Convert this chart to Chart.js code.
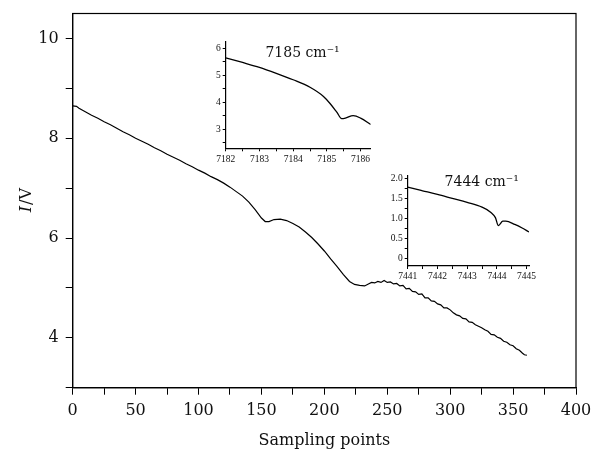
<!DOCTYPE html>
<html>
<head>
<meta charset="utf-8">
<script src="https://cdn.jsdelivr.net/npm/chart.js@4.4.0/dist/chart.umd.min.js"></script>
<style>
  body { margin: 0; background: #fff; }
  #wrap { position: relative; width: 592px; height: 450px; }
  canvas { position: absolute; }
</style>
</head>
<body>
<div id="wrap">
  <canvas id="mainChart" width="592" height="450" style="left:0;top:0"></canvas>
  <canvas id="inset7185" width="180" height="135" style="left:195px;top:30px"></canvas>
  <canvas id="inset7444" width="175" height="120" style="left:375px;top:165px"></canvas>
</div>
<script>
// main trace: voltage vs sampling point
var samplePoints = [0, 3, 5, 10, 15, 20, 25, 30, 35, 40, 45, 50, 55, 60, 65, 70, 75, 80, 85, 90, 95,
  100, 105, 110, 115, 120, 125, 130, 135, 140, 145, 150, 153, 156, 160, 165, 170, 175, 180, 185, 190,
  195, 200, 205, 210, 215, 220, 224, 228, 232,
  235, 237.5, 240, 242.5, 245, 247.5, 250, 252.5, 255, 257.5, 260, 262.5, 265, 267.5, 270, 272.5,
  275, 277.5, 280, 282.5, 285, 287.5, 290, 292.5, 295, 297.5, 300, 302.5, 305, 307.5, 310, 312.5,
  315, 317.5, 320, 322.5, 325, 327.5, 330, 332.5, 335, 337.5, 340, 342.5, 345, 347.5, 350, 352.5,
  355, 357.5, 359, 361];
var voltage = [8.65, 8.64, 8.60, 8.53, 8.46, 8.40, 8.33, 8.27, 8.20, 8.13, 8.07, 8.00, 7.94, 7.88, 7.81, 7.75, 7.68, 7.62, 7.56, 7.49, 7.43,
  7.36, 7.30, 7.23, 7.17, 7.10, 7.02, 6.93, 6.84, 6.72, 6.57, 6.40, 6.33, 6.33, 6.37, 6.38, 6.35, 6.29, 6.22, 6.12, 6.01,
  5.88, 5.74, 5.58, 5.43, 5.27, 5.13, 5.07, 5.05, 5.04,
  5.08, 5.11, 5.10, 5.13, 5.11, 5.15, 5.11, 5.12, 5.08, 5.09, 5.04, 5.05, 4.98, 4.99, 4.93, 4.92,
  4.87, 4.88, 4.80, 4.80, 4.74, 4.73, 4.68, 4.66, 4.60, 4.60, 4.56, 4.50, 4.46, 4.44, 4.39, 4.38,
  4.32, 4.31, 4.26, 4.23, 4.20, 4.16, 4.13, 4.07, 4.06, 4.01, 3.99, 3.93, 3.91, 3.86, 3.84, 3.78,
  3.75, 3.69, 3.66, 3.65];
var mainXTicks = [0, 25, 50, 75, 100, 125, 150, 175, 200, 225, 250, 275, 300, 325, 350, 375, 400];
var mainXLabels = [0, 50, 100, 150, 200, 250, 300, 350, 400];
var mainYTicks = [3, 4, 5, 6, 7, 8, 9, 10];
var mainYLabels = [4, 6, 8, 10];

// inset 7185 cm-1
var wn7185 = [7182, 7182.5, 7183, 7183.5, 7184, 7184.5, 7184.9, 7185.1, 7185.3, 7185.44, 7185.55, 7185.78, 7186, 7186.3];
var sig7185 = [5.65, 5.48, 5.30, 5.08, 4.84, 4.56, 4.22, 3.95, 3.63, 3.40, 3.42, 3.51, 3.42, 3.18];
var ins1XTicks = [7182, 7182.5, 7183, 7183.5, 7184, 7184.5, 7185, 7185.5, 7186];
var ins1XLabels = [7182, 7183, 7184, 7185, 7186];
var ins1YTicks = [2.5, 3, 3.5, 4, 4.5, 5, 5.5, 6];
var ins1YLabels = [3, 4, 5, 6];

// inset 7444 cm-1
var wn7444 = [7441, 7441.5, 7442, 7442.5, 7443, 7443.5, 7443.8, 7443.95, 7444.05, 7444.2, 7444.3, 7444.6, 7444.85, 7445.08];
var sig7444 = [1.78, 1.69, 1.60, 1.50, 1.40, 1.28, 1.15, 1.02, 0.82, 0.93, 0.93, 0.85, 0.76, 0.66];
var ins2XTicks = [7441, 7441.5, 7442, 7442.5, 7443, 7443.5, 7444, 7444.5, 7445];
var ins2XLabels = [7441, 7442, 7443, 7444, 7445];
var ins2YTicks = [0, 0.25, 0.5, 0.75, 1, 1.25, 1.5, 1.75, 2];
var ins2YLabels = [0, 0.5, 1, 1.5, 2];

var serif = "'DejaVu Serif', 'Liberation Serif', serif";
var smallSerif = "'Liberation Serif', 'DejaVu Serif', serif";
Chart.defaults.font.family = serif;
Chart.defaults.color = '#111';

function toPoints(xs, ys) {
  return xs.map(function (x, i) { return { x: x, y: ys[i] }; });
}

function axis(cfg) {
  return {
    type: 'linear',
    min: cfg.min,
    max: cfg.max,
    grid: { drawOnChartArea: false, drawTicks: true, tickLength: cfg.tick, tickColor: '#000', tickWidth: 1 },
    border: { display: true, color: '#000', width: cfg.bw },
    ticks: {
      autoSkip: false, maxRotation: 0, padding: cfg.pad,
      font: { size: cfg.fs, family: cfg.family || serif },
      callback: function (v) {
        if (cfg.labels.indexOf(v) < 0) return '';
        return cfg.fmt ? cfg.fmt(v) : String(v);
      }
    },
    afterBuildTicks: function (s) { s.ticks = cfg.ticks.map(function (v) { return { value: v }; }); },
    afterFit: function (s) {
      if (cfg.width) s.width = cfg.width;
      if (cfg.height) s.height = cfg.height;
      // keep label overhang from shrinking the plot area
      s.paddingLeft = 0; s.paddingRight = 0; s.paddingTop = 0; s.paddingBottom = 0;
    }
  };
}

// box round the main plot, and the axis titles
var mainDeco = {
  id: 'mainDeco',
  afterDraw: function (chart) {
    var c = chart.ctx, a = chart.chartArea;
    c.save();
    c.strokeStyle = '#000';
    c.lineWidth = 1.2;
    c.strokeRect(a.left, a.top, a.right - a.left, a.bottom - a.top);
    c.fillStyle = '#111';
    c.font = "16px " + serif;
    c.textAlign = 'center';
    c.textBaseline = 'alphabetic';
    c.fillText('Sampling points', (a.left + a.right) / 2, 445);
    c.translate(31, (a.top + a.bottom) / 2);
    c.rotate(-Math.PI / 2);
    c.textAlign = 'left';
    c.font = "italic 16px " + serif;
    var w1 = c.measureText('I').width;
    c.font = "16px " + serif;
    var w2 = c.measureText('/V').width;
    c.font = "italic 16px " + serif;
    c.fillText('I', -(w1 + w2) / 2, 0);
    c.font = "16px " + serif;
    c.fillText('/V', -(w1 + w2) / 2 + w1 + 1, 0);
    c.restore();
  }
};

new Chart(document.getElementById('mainChart'), {
  type: 'line',
  data: {
    datasets: [{
      data: toPoints(samplePoints, voltage),
      borderColor: '#000', borderWidth: 1.2, pointRadius: 0, tension: 0
    }]
  },
  options: {
    responsive: false, animation: false,
    layout: { padding: { top: 13.5, right: 16, left: 0, bottom: 0 } },
    plugins: { legend: { display: false }, tooltip: { enabled: false } },
    scales: {
      x: axis({ min: 0, max: 400, ticks: mainXTicks, labels: mainXLabels, tick: 7, pad: 7, fs: 16, bw: 1.2, height: 62.3 }),
      y: axis({ min: 3, max: 10.5, ticks: mainYTicks, labels: mainYLabels, tick: 7, pad: 7, fs: 16, bw: 1.2, width: 72.7 })
    }
  },
  plugins: [mainDeco]
});

function insetTitle(text, fx, dy) {
  return {
    id: 'insetTitle',
    afterDraw: function (chart) {
      var c = chart.ctx, a = chart.chartArea;
      c.save();
      c.fillStyle = '#111';
      c.font = "14px " + serif;
      c.textAlign = 'center';
      c.textBaseline = 'middle';
      c.fillText(text, a.left + fx * (a.right - a.left), a.top + dy);
      c.restore();
    }
  };
}

new Chart(document.getElementById('inset7185'), {
  type: 'line',
  data: {
    datasets: [{
      data: toPoints(wn7185, sig7185),
      borderColor: '#000', borderWidth: 1.3, pointRadius: 0, cubicInterpolationMode: 'monotone'
    }]
  },
  options: {
    responsive: false, animation: false,
    layout: { padding: { top: 11.7, right: 4.3, left: 0, bottom: 0 } },
    plugins: { legend: { display: false }, tooltip: { enabled: false } },
    scales: {
      x: axis({ min: 7182, max: 7186.3, ticks: ins1XTicks, labels: ins1XLabels, tick: 3, pad: 2, fs: 9.5, family: smallSerif, bw: 1.2, height: 16.7 }),
      y: axis({ min: 2.3, max: 6.25, ticks: ins1YTicks, labels: ins1YLabels, tick: 3, pad: 2, fs: 9.5, family: smallSerif, bw: 1.2, width: 30.7 })
    }
  },
  plugins: [insetTitle('7185 cm\u207B\u00B9', 0.53, 11.3)]
});

new Chart(document.getElementById('inset7444'), {
  type: 'line',
  data: {
    datasets: [{
      data: toPoints(wn7444, sig7444),
      borderColor: '#000', borderWidth: 1.3, pointRadius: 0, cubicInterpolationMode: 'monotone'
    }]
  },
  options: {
    responsive: false, animation: false,
    layout: { padding: { top: 11, right: 21, left: 0, bottom: 0 } },
    plugins: { legend: { display: false }, tooltip: { enabled: false } },
    scales: {
      x: axis({ min: 7441, max: 7445.08, ticks: ins2XTicks, labels: ins2XLabels, tick: 3, pad: 2, fs: 9.5, family: smallSerif, bw: 1.2, height: 19 }),
      y: axis({ min: -0.19, max: 2.06, ticks: ins2YTicks, labels: ins2YLabels, tick: 3, pad: 2, fs: 9.5, family: smallSerif, bw: 1.2, width: 32.7,
        fmt: function (v) { return v === 0 ? '0' : v.toFixed(1); } })
    }
  },
  plugins: [insetTitle('7444 cm\u207B\u00B9', 0.61, 6)]
});
</script>
</body>
</html>
